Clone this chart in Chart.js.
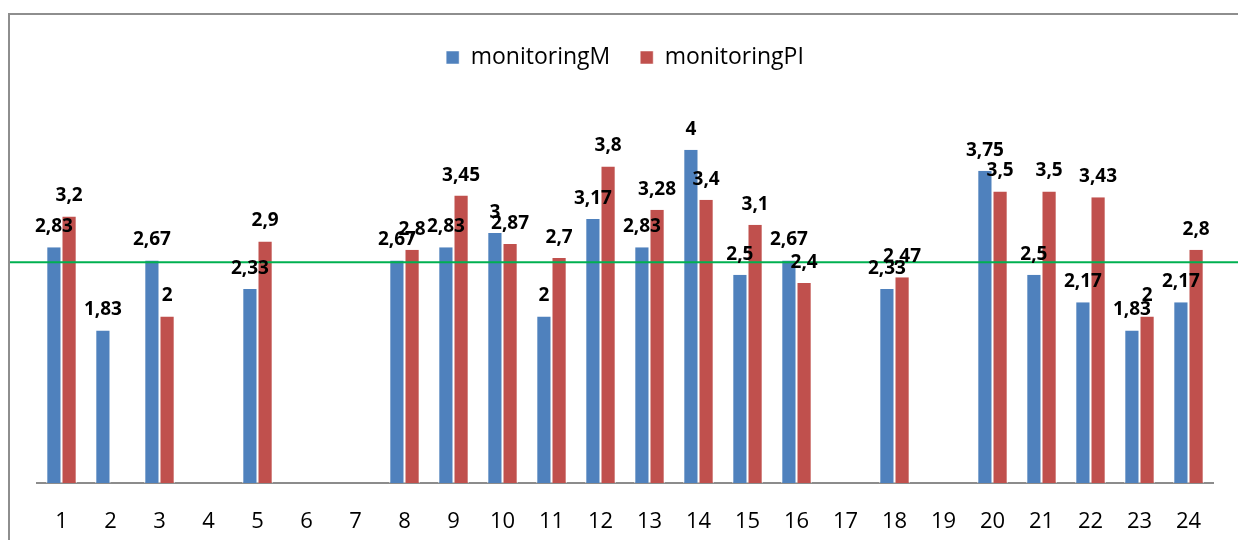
<!DOCTYPE html>
<html>
<head>
<meta charset="utf-8">
<script src="https://cdn.jsdelivr.net/npm/chart.js@4.4.1/dist/chart.umd.min.js"></script>
<style>
	html, body { margin: 0; padding: 0; background: #fff; overflow: hidden; }
	#wrap { position: relative; width: 1238px; height: 540px; }
</style>
</head>
<body>
<div id="wrap"><canvas id="monChart" width="1238" height="540"></canvas></div>
<script>
// data
const categories = ["1", "2", "3", "4", "5", "6", "7", "8", "9", "10", "11", "12",
	"13", "14", "15", "16", "17", "18", "19", "20", "21", "22", "23", "24"];
const monitoringM = [2.83, 1.83, 2.67, null, 2.33, null, null, 2.67, 2.83, 3, 2, 3.17,
	2.83, 4, 2.5, 2.67, null, 2.33, null, 3.75, 2.5, 2.17, 1.83, 2.17];
const monitoringPI = [3.2, null, 2, null, 2.9, null, null, 2.8, 3.45, 2.87, 2.7, 3.8,
	3.28, 3.4, 3.1, 2.4, null, 2.47, null, 3.5, 3.5, 3.43, 2, 2.8];
const referenceLine = 2.65;

const FONT = "'Open Sans', 'Noto Sans', sans-serif";

// outer frame of the chart object (cut off on the right and bottom)
const framePlugin = {
	id: "frame",
	beforeDraw(chart) {
		const ctx = chart.ctx;
		ctx.save();
		ctx.strokeStyle = "#8e8e8e";
		ctx.lineWidth = 2;
		ctx.strokeRect(9, 14, chart.width + 20, chart.height + 20);
		ctx.restore();
	},
};

// green horizontal line across the whole chart
const refLinePlugin = {
	id: "refLine",
	afterDatasetsDraw(chart) {
		const y = chart.scales.y.getPixelForValue(referenceLine);
		const ctx = chart.ctx;
		ctx.save();
		ctx.strokeStyle = "#00b050";
		ctx.lineWidth = 2;
		ctx.beginPath();
		ctx.moveTo(10, y);
		ctx.lineTo(chart.width, y);
		ctx.stroke();
		ctx.restore();
	},
};

// bold value labels above each bar
const valueLabelPlugin = {
	id: "valueLabels",
	afterDatasetsDraw(chart) {
		const ctx = chart.ctx;
		ctx.save();
		ctx.font = "bold 19px " + FONT;
		ctx.fillStyle = "#000";
		ctx.textAlign = "center";
		ctx.textBaseline = "bottom";
		chart.data.datasets.forEach((ds, di) => {
			const meta = chart.getDatasetMeta(di);
			meta.data.forEach((bar, i) => {
				const v = ds.data[i];
				if (v === null || v === undefined) return;
				ctx.fillText(String(v).replace(".", ","), bar.x, bar.y - 11);
			});
		});
		ctx.restore();
	},
};

const ctx = document.getElementById("monChart").getContext("2d");

const monChart = new Chart(ctx, {
	type: "bar",
	data: {
		labels: categories,
		datasets: [
			{
				label: "monitoringM",
				data: monitoringM,
				backgroundColor: "#4f81bd",
				borderColor: "#ffffff",
				borderWidth: { left: 1, right: 1, top: 0, bottom: 0 },
				borderSkipped: false,
			},
			{
				label: "monitoringPI",
				data: monitoringPI,
				backgroundColor: "#c0504d",
				borderColor: "#ffffff",
				borderWidth: { left: 1, right: 1, top: 0, bottom: 0 },
				borderSkipped: false,
			},
		],
	},
	options: {
		responsive: false,
		animation: false,
		layout: {
			padding: { left: 37, right: 25, top: 16, bottom: 0 },
		},
		datasets: {
			bar: {
				categoryPercentage: 0.62,
				barPercentage: 1,
			},
		},
		plugins: {
			tooltip: { enabled: false },
			legend: {
				position: "top",
				labels: {
					boxWidth: 13,
					boxHeight: 13,
					padding: 30,
					color: "#000",
					font: { family: FONT, size: 23 },
				},
			},
		},
		scales: {
			x: {
				grid: { display: false, drawTicks: false },
				border: { display: true, color: "#8c8c8c", width: 2 },
				ticks: {
					color: "#000",
					padding: 26,
					font: { family: FONT, size: 22 },
				},
				afterFit(scale) {
					scale.height = 57;
				},
			},
			y: {
				display: false,
				min: 0,
				max: 4.85,
			},
		},
	},
	plugins: [framePlugin, refLinePlugin, valueLabelPlugin],
});
</script>
</body>
</html>
